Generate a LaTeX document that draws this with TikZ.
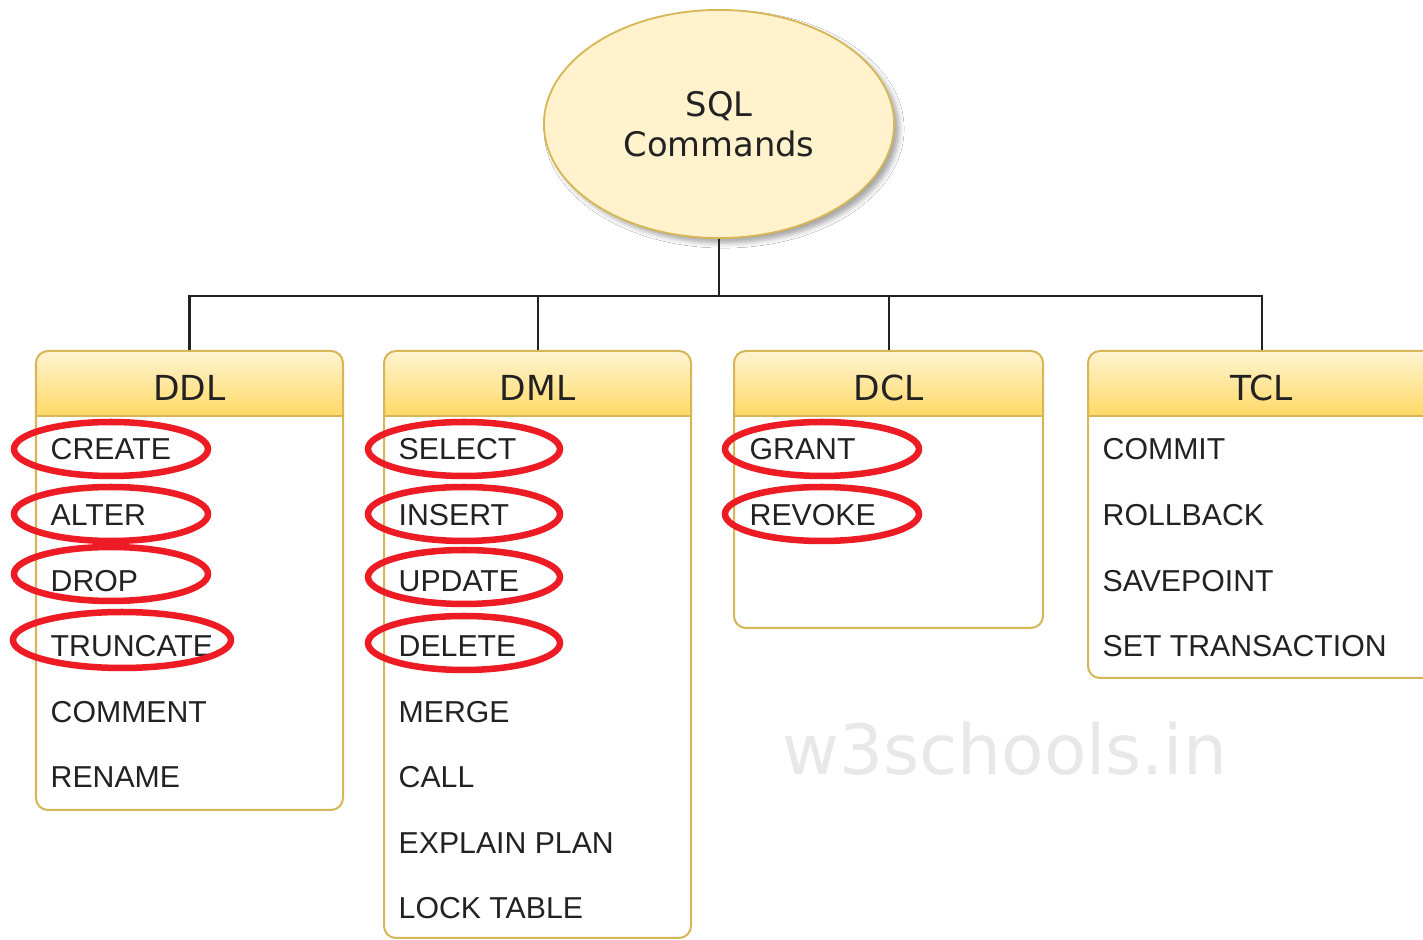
\documentclass[tikz,border=0pt]{standalone}
\usepackage{fontspec}
\setmainfont{Liberation Sans}
\newfontfamily\headfont{DejaVu Sans}
\usetikzlibrary{shapes.geometric,shadows.blur}

\definecolor{paleyellow}{HTML}{FFF2CC}
\definecolor{headtop}{HTML}{FFF4D2}
\definecolor{headbottom}{HTML}{FFD966}
\definecolor{goldline}{HTML}{D6B656}
\definecolor{ringred}{HTML}{ED1C24}
\definecolor{inktext}{HTML}{222222}
\definecolor{markgray}{HTML}{E8E8E8}

\tikzset{
  wire/.style={draw=inktext, line width=0.02cm},
  rootnode/.style={ellipse, draw=goldline, fill=paleyellow, line width=0.018cm,
    minimum width=3.5cm, minimum height=2.28cm, inner sep=0pt, align=center,
    text=inktext, font=\headfont\fontsize{9.6}{11.4}\selectfont,
    blur shadow={shadow xshift=0.05cm, shadow yshift=-0.05cm, shadow blur radius=0.05cm, shadow opacity=35}},
  headtext/.style={inner sep=0pt, minimum height=0.65cm, text height=0.33cm, text depth=0pt,
    text=inktext, font=\headfont\fontsize{9.8}{12}\selectfont},
  item/.style={anchor=base west, inner sep=0pt, text=inktext,
    font=\fontsize{8.6}{10}\selectfont},
  ring/.style={draw=ringred, line width=0.065cm},
  watermark/.style={anchor=base, inner sep=0pt, text=markgray,
    font=\headfont\fontsize{19.7}{22}\selectfont},
}

% a category box: name, left edge, right edge, bottom edge, title
\newcommand\catbox[5]{%
  \begin{scope}
    \clip[rounded corners=0.12cm] (#2,351) rectangle (#3,#4);
    \fill[white] (#2,351) rectangle (#3,#4);
    \shade[top color=headtop, bottom color=headbottom] (#2,351) rectangle (#3,416);
  \end{scope}
  \draw[goldline, line width=0.015cm] (#2,416) -- (#3,416);
  \draw[goldline, line width=0.02cm, rounded corners=0.12cm] (#2,351) rectangle (#3,#4);
  \node[headtext, minimum width={(#3-#2)*0.01cm}] (#1) at ({(#2+#3)/2},383.5) {#5};
}

\begin{document}
\begin{tikzpicture}[x=0.01cm, y=-0.01cm]
  \useasboundingbox (0,0) rectangle (1423,940);
  \clip (0,0) rectangle (1423,940);
  \fill[white] (0,0) rectangle (1423,940);

  % root of the tree
  \node[rootnode] (root) at (719,124) {SQL\\Commands};

  % the four categories
  \catbox{ddl}{36}{343}{810}{DDL}
  \catbox{dml}{384}{691}{938}{DML}
  \catbox{dcl}{734}{1043}{628}{DCL}
  \catbox{tcl}{1088}{1436}{678}{TCL}

  % tree connectors
  \draw[wire] (root.south) -- ++(0,57) -| (ddl.north);
  \draw[wire] (root.south) -- ++(0,57) -| (dml.north);
  \draw[wire] (root.south) -- ++(0,57) -| (dcl.north);
  \draw[wire] (root.south) -- ++(0,57) -| (tcl.north);

  % commands of each category
  \foreach \t [count=\i] in {CREATE,ALTER,DROP,TRUNCATE,COMMENT,RENAME}
    \node[item] (ddl\i) at (50,{460+65.57*(\i-1)}) {\t};
  \foreach \t [count=\i] in {SELECT,INSERT,UPDATE,DELETE,MERGE,CALL,EXPLAIN PLAN,LOCK TABLE}
    \node[item] (dml\i) at (398,{460+65.57*(\i-1)}) {\t};
  \foreach \t [count=\i] in {GRANT,REVOKE}
    \node[item] (dcl\i) at (749,{460+65.57*(\i-1)}) {\t};
  \foreach \t [count=\i] in {COMMIT,ROLLBACK,SAVEPOINT,SET TRANSACTION}
    \node[item] (tcl\i) at (1102,{460+65.57*(\i-1)}) {\t};

  % highlighted commands
  \draw[ring] (111,449) ellipse [x radius=97, y radius=27];
  \draw[ring] (111,514) ellipse [x radius=97, y radius=27];
  \draw[ring] (111,574) ellipse [x radius=97, y radius=27];
  \draw[ring] (122,640) ellipse [x radius=109, y radius=28];
  \draw[ring] (464,449) ellipse [x radius=96, y radius=27];
  \draw[ring] (464,514) ellipse [x radius=96, y radius=27];
  \draw[ring] (464,577) ellipse [x radius=96, y radius=27];
  \draw[ring] (464,643) ellipse [x radius=96, y radius=27];
  \draw[ring] (822,449) ellipse [x radius=97, y radius=27];
  \draw[ring] (822,514) ellipse [x radius=97, y radius=27];

  % site mark
  \node[watermark] (mark) at (1005,775) {w3schools.in};
\end{tikzpicture}
\end{document}
